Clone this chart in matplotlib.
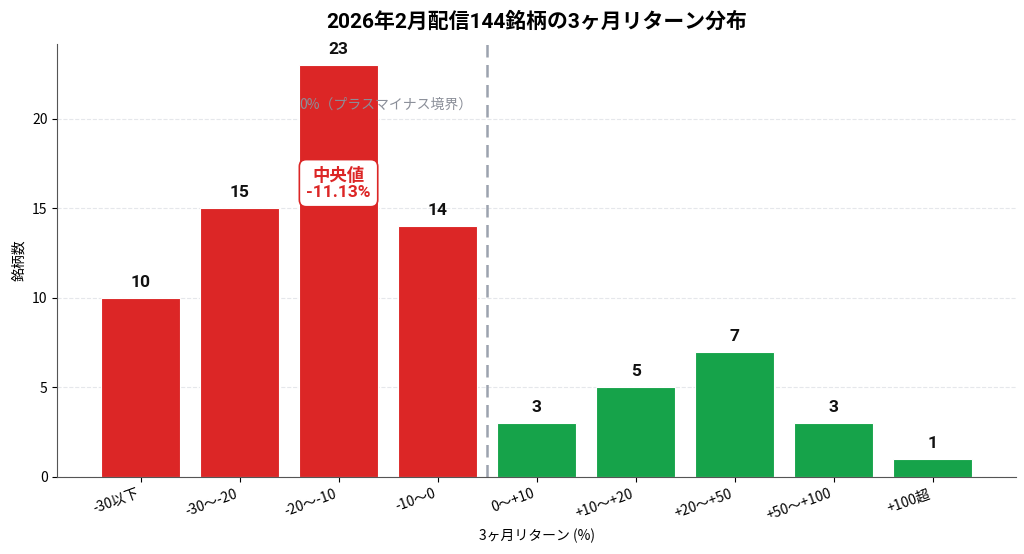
import matplotlib
matplotlib.use('Agg')
import matplotlib.pyplot as plt

plt.rcParams['font.family'] = ['Noto Sans CJK JP', 'DejaVu Sans']
WIDE = ['Roboto', 'Noto Sans CJK JP', 'DejaVu Sans']

# data
categories = ['-30以下', '-30〜-20', '-20〜-10', '-10〜0', '0〜+10', '+10〜+20', '+20〜+50', '+50〜+100', '+100超']
counts = [10, 15, 23, 14, 3, 5, 7, 3, 1]
is_negative = [True, True, True, True, False, False, False, False, False]
median_value = -11.13
median_bin = 2

RED = '#dc2626'
GREEN = '#16a34a'

fig, ax = plt.subplots(figsize=(10.24, 5.54), dpi=100)

colors = [RED if neg else GREEN for neg in is_negative]
x = list(range(len(categories)))
bars = ax.bar(x, counts, width=0.8, color=colors, edgecolor='white', linewidth=0.8)

# count labels above bars
for xi, c in zip(x, counts):
    ax.text(xi, c + 0.45, str(c), ha='center', va='bottom', fontsize=12.5, fontweight='bold',
            color='#111111', family=WIDE)

# boundary between minus and plus
ax.axvline(3.5, color='#9ca3af', linestyle='--', linewidth=1.8, dashes=(5, 3))
ax.text(3.35, 20.8, '0%（プラスマイナス境界）', ha='right', va='center', fontsize=10, color='#8b8f99')

# median box
ax.text(median_bin, 16.4, '中央値\n%.2f%%' % median_value, ha='center', va='center',
        fontsize=12.5, fontweight='bold', color=RED, linespacing=1.1, family=WIDE,
        bbox=dict(boxstyle='round,pad=0.4', facecolor='white', edgecolor=RED, linewidth=1.2))

ax.set_xticks(x)
ax.set_xticklabels(categories, rotation=20, ha='right', fontsize=10)
ax.set_ylim(0, 24.15)
ax.set_yticks([0, 5, 10, 15, 20])
ax.tick_params(axis='y', labelsize=10)
ax.set_xlabel('3ヶ月リターン (%)', fontsize=10)
ax.set_ylabel('銘柄数', fontsize=10)
ax.set_title('2026年2月配信144銘柄の3ヶ月リターン分布', fontsize=15, fontweight='bold', pad=12, family=WIDE)

ax.grid(axis='y', linestyle='--', color='#e5e7eb', linewidth=0.8)
ax.set_axisbelow(True)
ax.spines['top'].set_visible(False)
ax.spines['right'].set_visible(False)
ax.spines['left'].set_color('#555555')
ax.spines['bottom'].set_color('#555555')

plt.subplots_adjust(left=0.056, right=0.992, top=0.92, bottom=0.139)
plt.savefig('out.png', dpi=100)
